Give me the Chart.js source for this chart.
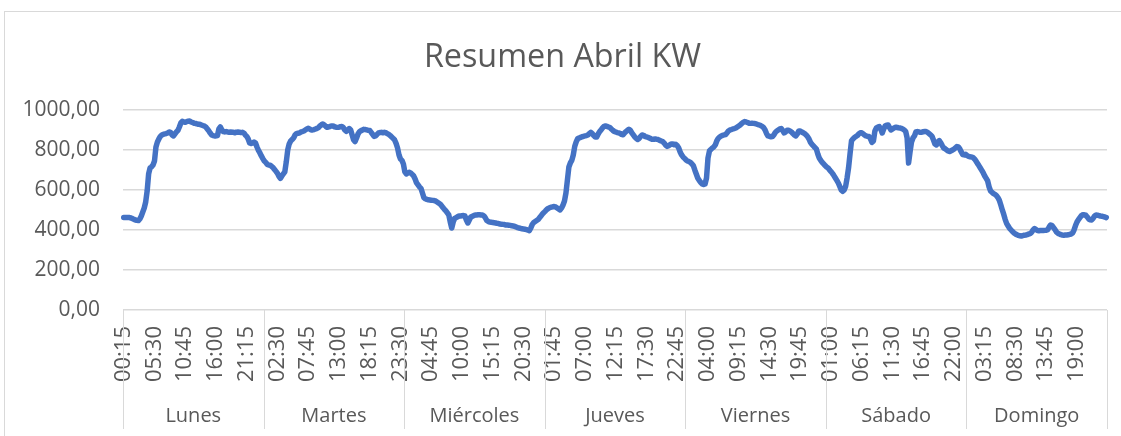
<!DOCTYPE html>
<html>
<head>
<meta charset="utf-8">
<script src="https://cdn.jsdelivr.net/npm/chart.js@4.4.1/dist/chart.umd.min.js"></script>
<style>
  html, body { margin: 0; padding: 0; background: #ffffff; }
  canvas { display: block; }
</style>
</head>
<body>
<canvas id="c" width="1121" height="436"></canvas>
<script>
// ---- Data (kW, one value every 15 minutes, 96 per day) ----
const days = ['Lunes', 'Martes', 'Miércoles', 'Jueves', 'Viernes', 'Sábado', 'Domingo'];

const timeTickLabels = ['00:15','05:30','10:45','16:00','21:15','02:30','07:45','13:00','18:15','23:30',
  '04:45','10:00','15:15','20:30','01:45','07:00','12:15','17:30','22:45','04:00','09:15','14:30','19:45',
  '01:00','06:15','11:30','16:45','22:00','03:15','08:30','13:45','19:00'];

const yTickValues = [0, 200, 400, 600, 800, 1000];

const lunes = [463,463,462,462,462,460,457,453,450,448,
  447,455,470,490,510,540,595,680,710,716,
  725,745,815,840,855,868,875,878,880,882,
  885,890,888,875,870,880,890,898,915,935,
  943,940,938,942,944,945,940,937,934,933,
  930,928,928,925,922,920,915,905,897,885,
  875,872,870,870,872,905,915,900,892,890,
  892,890,889,890,888,888,886,889,890,889,
  887,888,885,875,868,855,835,832,835,840,
  835,815,798,785,770,757];

const martes = [745,738,728,725,724,718,712,702,693,683,
  668,658,670,680,690,740,800,830,845,852,
  860,875,882,884,885,890,892,895,900,905,
  908,905,900,900,902,905,908,912,920,926,
  930,925,918,913,915,918,920,920,916,914,
  913,914,916,917,912,900,893,900,907,900,
  875,850,842,860,880,892,896,900,903,902,
  900,898,897,888,878,868,870,878,885,887,
  888,886,888,886,882,878,872,865,858,850,
  833,810,775,755,748,730];

const miercoles = [690,680,685,688,685,678,670,655,635,625,
  615,608,585,562,556,553,551,550,549,548,
  547,545,540,535,530,522,512,503,495,485,
  475,440,410,440,458,462,466,470,470,471,
  472,470,450,435,450,465,468,472,475,475,
  476,476,475,475,470,460,447,442,440,439,
  437,436,435,433,432,430,429,428,427,425,
  425,424,423,421,420,418,415,412,410,408,
  406,405,404,402,400,397,410,428,437,442,
  447,452,462,470,480,488];

const jueves = [495,503,508,512,514,516,517,515,510,505,
  500,510,525,545,585,650,715,735,748,775,
  818,840,856,860,863,866,868,870,872,875,
  882,888,882,872,865,865,880,892,900,910,
  918,920,918,915,912,905,898,893,890,887,
  885,883,878,876,885,892,898,903,898,885,
  875,865,858,853,858,868,875,873,868,865,
  863,860,856,853,853,855,853,852,848,845,
  842,835,825,818,820,826,830,830,826,828,
  822,810,790,775,765,758];

const viernes = [750,745,742,738,730,722,700,680,660,648,
  638,630,627,630,660,760,795,803,810,815,
  825,845,858,865,870,873,875,877,885,895,
  900,902,905,907,910,915,920,925,932,938,
  942,940,937,934,933,934,933,932,930,927,
  925,922,918,912,900,882,870,868,866,867,
  875,888,895,900,905,907,898,885,890,898,
  898,895,890,882,875,870,880,895,895,890,
  886,882,875,867,855,838,828,820,812,805,
  780,760,748,738,730,722];

const sabado = [715,710,700,692,683,672,660,648,635,618,
  600,593,600,618,660,710,780,845,855,862,
  867,872,880,886,886,880,874,870,868,867,
  855,838,845,895,910,914,917,905,885,905,
  920,924,925,912,900,905,910,913,913,911,
  910,908,905,900,893,860,735,790,840,860,
  870,890,892,890,888,889,891,892,892,888,
  882,876,868,850,830,825,840,847,835,822,
  810,806,800,795,792,796,800,804,810,817,
  815,805,790,777,775,778];

const domingo = [772,768,766,765,762,755,745,733,722,710,
  698,685,670,658,645,615,595,588,582,578,
  572,562,548,525,500,478,452,432,420,408,
  400,392,385,380,376,373,371,370,372,374,
  375,377,380,382,388,400,407,402,397,396,
  397,397,397,398,399,402,415,425,422,412,
  402,390,383,380,377,375,374,375,375,376,
  378,380,385,400,422,440,452,462,472,476,
  476,474,465,455,451,450,458,470,475,474,
  472,470,469,467,465,462];

const dayData = [lunes, martes, miercoles, jueves, viernes, sabado, domingo];
const LABEL_EVERY = 21;

// Category labels: day + slot time (15-minute slots, first slot 00:15)
function slotTime(j) {
  const m = ((j + 1) * 15) % 1440;
  return String(Math.floor(m / 60)).padStart(2, '0') + ':' + String(m % 60).padStart(2, '0');
}
const categories = [];
const values = [];
dayData.forEach((arr, d) => {
  arr.forEach((v, j) => { categories.push(days[d] + ' ' + slotTime(j)); values.push(v); });
});

const TXT = '#595959';
const GRID = '#d9d9d9';
const FONT = "'Open Sans', 'Liberation Sans', sans-serif";

const frame = {
  id: 'frame',
  afterLayout(chart) {
    // the original chart frame is wider than the picture: centre the title on it
    const t = chart.titleBlock;
    if (t) { t.left += 18; t.width = t.right - t.left; }
  },
  beforeDraw(chart) {
    const ctx = chart.ctx;
    ctx.save();
    ctx.fillStyle = '#ffffff';
    ctx.fillRect(0, 0, chart.width, chart.height);
    ctx.strokeStyle = GRID;
    ctx.lineWidth = 1;
    ctx.strokeRect(4.5, 11.5, chart.width + 20, chart.height + 20);
    ctx.restore();
  },
  afterDraw(chart) {
    const xs = chart.scales.x;
    const ctx = chart.ctx;
    const step = xs.getPixelForValue(1) - xs.getPixelForValue(0);
    ctx.save();
    ctx.strokeStyle = GRID;
    ctx.lineWidth = 1;
    for (let k = 0; k <= days.length; k++) {
      let px;
      if (k < days.length) px = xs.getPixelForValue(k * 96) - step / 2;
      else px = xs.getPixelForValue(values.length - 1) + step / 2;
      px = Math.round(px) + 0.5;
      ctx.beginPath();
      ctx.moveTo(px, chart.chartArea.bottom);
      ctx.lineTo(px, 429);
      ctx.stroke();
    }
    ctx.restore();
  }
};

function noSidePadding(s) {
  s.paddingLeft = 0;
  s.paddingRight = 0;
}

new Chart(document.getElementById('c'), {
  type: 'line',
  data: {
    labels: categories,
    datasets: [{
      data: values,
      borderColor: '#4472C4',
      borderWidth: 5.5,
      pointRadius: 0,
      tension: 0,
      fill: false,
      borderCapStyle: 'round',
      borderJoinStyle: 'round',
      xAxisID: 'x',
      yAxisID: 'y'
    }]
  },
  options: {
    responsive: false,
    animation: false,
    devicePixelRatio: 1,
    layout: { padding: { left: 0, right: 14, top: 0, bottom: 0 } },
    plugins: {
      legend: { display: false },
      tooltip: { enabled: false },
      title: {
        display: true,
        text: 'Resumen Abril KW',
        color: TXT,
        font: { family: FONT, size: 32.3, weight: 'normal', lineHeight: 1.2 },
        padding: { top: 38.5, bottom: 32.7 }
      }
    },
    scales: {
      y: {
        min: 0,
        max: 1000,
        afterBuildTicks(s) { s.ticks = yTickValues.map(v => ({ value: v })); },
        afterFit(s) { s.width = 123; },
        border: { display: false },
        grid: { color: GRID, lineWidth: 1.5, drawTicks: false },
        ticks: {
          color: TXT,
          padding: 23,
          font: { family: FONT, size: 21 },
          callback: v => v.toFixed(2).replace('.', ',')
        }
      },
      x: {
        type: 'category',
        position: 'bottom',
        weight: 0,
        offset: true,
        afterFit(s) { s.height = 80; noSidePadding(s); },
        border: { display: false },
        grid: { display: false, drawTicks: false },
        ticks: {
          autoSkip: false,
          maxRotation: 90,
          minRotation: 90,
          padding: 16,
          color: TXT,
          font: { family: FONT, size: 22 },
          callback: (v, i) => (i % LABEL_EVERY === 0 ? timeTickLabels[i / LABEL_EVERY] : '')
        }
      },
      x2: {
        type: 'category',
        position: 'bottom',
        weight: 1,
        labels: days,
        offset: true,
        afterFit(s) { s.height = 46; noSidePadding(s); },
        border: { display: false },
        grid: { display: false, drawTicks: false },
        ticks: {
          color: TXT,
          padding: 14,
          font: { family: FONT, size: 20 }
        }
      }
    }
  },
  plugins: [frame]
});
</script>
</body>
</html>
